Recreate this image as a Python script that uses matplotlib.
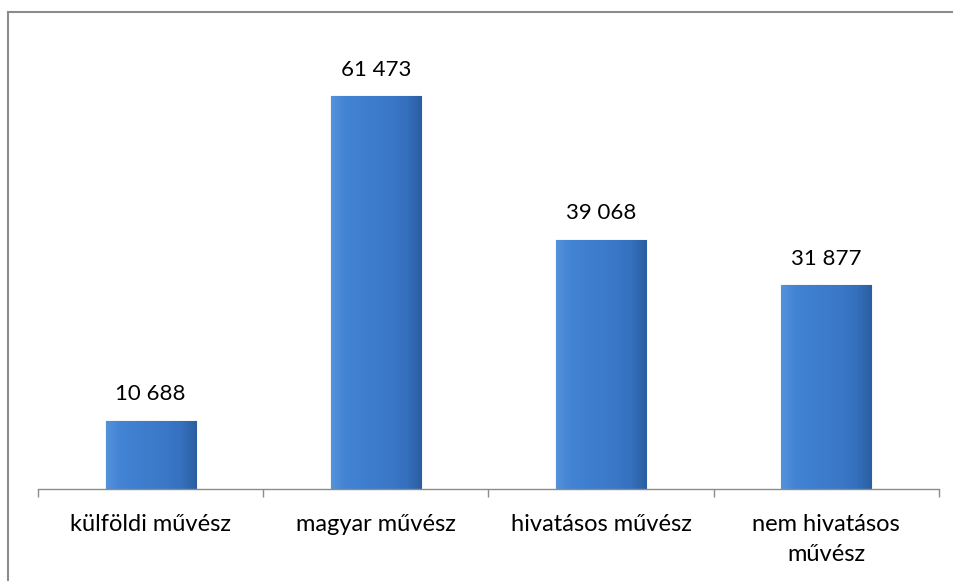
import numpy as np
import matplotlib.pyplot as plt
from matplotlib.colors import LinearSegmentedColormap
from matplotlib.lines import Line2D

plt.rcParams['font.family'] = ['Lato', 'DejaVu Sans']

categories = ['külföldi művész', 'magyar művész', 'hivatásos művész', 'nem hivatásos\nművész']
values = [10688, 61473, 39068, 31877]
value_labels = ['10 688', '61 473', '39 068', '31 877']

fig = plt.figure(figsize=(9.54, 5.81), dpi=100)
ax = fig.add_axes([38/954, (581-489)/581, (939-38)/954, (489-42)/581])

x = np.arange(len(categories))
bars = ax.bar(x, values, width=0.40, color='#3E7DCC', edgecolor='#2E5E9E', linewidth=0.8, zorder=2)

# gradient fill to mimic the bevelled Excel bars
cmap = LinearSegmentedColormap.from_list('bev', ['#5592DC', '#4283D3', '#3F7FD0', '#3D7BCB',
                                                 '#3A77C6', '#3470BD', '#2B5E9F'])
grad = np.linspace(0, 1, 256).reshape(1, -1)
for b in bars:
    x0, y0 = b.get_x(), b.get_y()
    w, h = b.get_width(), b.get_height()
    im = ax.imshow(grad, cmap=cmap, aspect='auto', extent=(x0, x0 + w, y0, y0 + h), zorder=2.5)
    im.set_clip_path(b)

for xi, v, lab in zip(x, values, value_labels):
    ax.annotate(lab, (xi, v), xytext=(0, 12), textcoords='offset points',
                ha='center', va='bottom', fontsize=16, color='black')

ax.set_xlim(-0.5, len(categories) - 0.5)
ax.set_ylim(0, 70000)
ax.set_xticks(x)
ax.set_xticklabels(categories, fontsize=17, linespacing=1.55)
ax.tick_params(axis='x', which='major', length=0, pad=18)
ax.set_xticks(np.arange(-0.5, len(categories)), minor=True)
ax.tick_params(axis='x', which='minor', length=6, width=1, color='#8C8C8C')
ax.set_yticks([])
for s in ['top', 'right', 'left']:
    ax.spines[s].set_visible(False)
ax.spines['bottom'].set_color('#8C8C8C')
ax.spines['bottom'].set_linewidth(1)

# outer chart frame (only top and left visible in the crop)
fig.add_artist(Line2D([8/954, 8/954], [0, 1 - 12/581], transform=fig.transFigure, color='#8C8C8C', lw=1.5))
fig.add_artist(Line2D([8/954, 1], [1 - 12/581, 1 - 12/581], transform=fig.transFigure, color='#8C8C8C', lw=1.5))

fig.savefig('out.png', dpi=100)
